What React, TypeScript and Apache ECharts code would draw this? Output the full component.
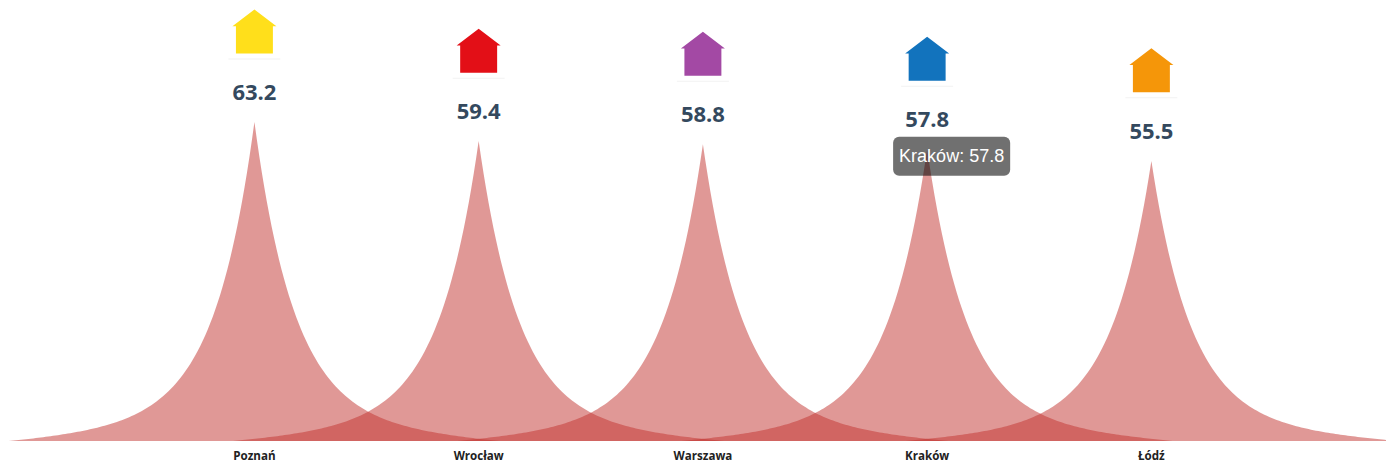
import React, { useEffect, useRef } from "react";
import * as echarts from "echarts";

const categories = ["Poznań", "Wrocław", "Warszawa", "Kraków", "Łódź"];
const values = [63.2, 59.4, 58.8, 57.8, 55.5];
const iconColors = ["#ffdf1b", "#e30f17", "#a349a4", "#1273bd", "#f59609"];
const tooltipCategory = "Kraków";

// Outline of one peak in a 200x100 box: a sharp cusp whose sides fall away like the reference's.
const peakHeight = (d: number) =>
  88 * Math.exp(-d / 16) + 12 * Math.exp(-d / 50) - 1.8 * (d / 100) * (d / 100);
const buildPeak = () => {
  const left: string[] = [];
  const right: string[] = [];
  for (let d = 100; d >= 0; d -= 1) left.push(`${100 - d},${(100 - peakHeight(d)).toFixed(2)}`);
  for (let d = 1; d <= 100; d += 1) right.push(`${100 + d},${(100 - peakHeight(d)).toFixed(2)}`);
  return `path://M${left.join(" L")} L${right.join(" L")} Z`;
};
const PEAK = buildPeak();
const HOUSE = "path://M50,0 L100,38 L92,38 L92,100 L8,100 L8,38 L0,38 Z";

export default function App() {
  const ref = useRef<HTMLDivElement>(null);
  useEffect(() => {
    const chart = echarts.init(ref.current!, null, { renderer: "svg" });
    chart.setOption({
      animation: false,
      grid: { left: 142.3, right: 122.5, top: 122, bottom: 22 },
      tooltip: { show: false },
      xAxis: {
        type: "category",
        data: categories,
        axisLine: { show: false },
        axisTick: { show: false },
        axisLabel: {
          fontFamily: "Open Sans",
          fontWeight: "bold",
          fontSize: 11.6,
          color: "#222",
          margin: 8,
        },
      },
      yAxis: { type: "value", min: 0, max: 63.2, show: false, splitLine: { show: false } },
      series: [
        {
          type: "pictorialBar",
          name: "peaks",
          symbol: PEAK,
          barWidth: "100%",
          symbolSize: ["219%", "100%"],
          symbolPosition: "start",
          itemStyle: { color: "rgba(193,50,45,0.5)" },
          label: {
            show: true,
            position: "top",
            distance: 20,
            formatter: "{c}",
            fontFamily: "Open Sans",
            fontWeight: "bold",
            fontSize: 22,
            color: "#34495e",
          },
          z: 2,
          clip: false,
          data: values,
        },
        {
          type: "scatter",
          name: "divider",
          symbol: "rect",
          symbolSize: [52, 1],
          symbolOffset: [0, -63],
          itemStyle: { color: "#f2f2f2", opacity: 1 },
          silent: true,
          clip: false,
          z: 3,
          data: values,
        },
        {
          type: "scatter",
          name: "icons",
          symbol: HOUSE,
          symbolSize: [44, 44],
          symbolOffset: [0, -90.5],
          clip: false,
          z: 3,
          data: values.map((v, i) => ({ value: v, itemStyle: { color: iconColors[i], opacity: 1 } })),
        },
        {
          type: "scatter",
          name: "tooltip",
          symbolSize: 0,
          clip: false,
          z: 5,
          itemStyle: { opacity: 1 },
          data: [[tooltipCategory, values[categories.indexOf(tooltipCategory)]]],
          label: {
            show: true,
            position: "inside",
            offset: [24.5, 7],
            formatter: (p: any) => `${p.value[0]}: ${p.value[1]}`,
            fontFamily: "Liberation Sans",
            fontSize: 18,
            color: "#fff",
            opacity: 1,
            backgroundColor: "rgba(0,0,0,0.56)",
            borderRadius: 6,
            padding: [11, 6, 10, 6],
          },
        },
      ],
    });
    return () => chart.dispose();
  }, []);
  return <div ref={ref} style={{ width: 1386, height: 463, position: "absolute", left: 0, top: 0, background: "#fff" }} />;
}
